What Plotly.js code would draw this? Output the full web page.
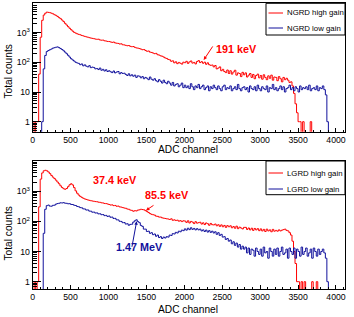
<!DOCTYPE html>
<html><head><meta charset="utf-8">
<script src="https://cdn.plot.ly/plotly-3.0.1.min.js"></script>
<style>html,body{margin:0;padding:0;background:#fff}#chart{width:354px;height:317px}</style>
</head><body><div id="chart"></div>
<script>
// bin width (ADC channels) of the histograms
const binWidth = 20;
// NGRD high gain (red, top panel) counts per bin, starting at channel 0
const ngrdHigh = [
1,0.1,1,1,40,700,2600,3900,4500,4900,
4800,4700,4500,4300,4000,3800,3500,3200,2950,2650,
2350,2050,1800,1580,1400,1250,1120,1020,960,910,
870,845,800,775,745,720,700,675,655,640,
625,605,595,600,565,555,560,530,520,505,
500,485,470,480,450,440,432,412,420,390,
385,372,360,368,345,335,340,318,305,300,
290,278,265,270,250,235,240,220,215,205,
195,200,180,175,165,160,150,140,135,125,
121,108,112,96,104,90,99,93,87,101,
97,108,92,103,111,94,99,88,106,114,
98,105,93,101,86,96,83,79,81,70,
78,60,64,70,52,58,49,45,55,42,
52,40,47,54,37,44,42,33,46,38,
44,32,37,42,31,39,28,36,40,30,
36,27,38,31,26,35,29,37,25,32,
31,24,33,28,22,31,26,29,25,21,
22,16,9,4,2,1,1,0.1,1,0.1,
0.1,0.1,0.1,1,0.1,0.1];
// NGRD low gain (blue, top panel)
const ngrdLow = [
0.1,0.1,0.1,0.1,0.1,0.1,1,60,170,230,
250,265,280,300,310,322,330,312,290,270,
245,220,195,172,150,132,120,110,100,95,
92,83,88,76,82,74,70,77,66,69,
67,60,62,57,64,54,58,51,56,49,
52,48,45,51,44,47,49,41,45,42,
43,39,36,41,35,38,34,37,31,35,
34,30,33,28,31,29,26,32,27,25,
28,24,22,26,23,20,25,21,19,23,
20,17,21,16,18,19,15,17,20,14,
17,14,16,13,19,15,12,16,14,18,
13,15,17,12,14,16,11,15,13,17,
14,12,16,13,11,15,17,12,14,13,
16,11,13,15,12,18,13,11,14,15,
12,14,10,16,13,12,15,11,17,13,
11,15,13,12,16,10,14,13,18,12,
14,11,13,16,12,15,10,13,14,17,
12,14,11,15,13,10,16,12,14,13,
15,12,17,11,13,14,12,16,11,14,
13,16,12,8,1,0.1];
// LGRD high gain (red, bottom panel)
const lgrdHigh = [
0.1,1,0.1,1,300,2500,4000,4700,4900,4700,
4300,3800,3300,2900,2600,2300,2000,1750,1500,1320,
1200,1150,1220,1400,1620,1750,1600,1300,1020,850,
740,670,620,580,550,530,510,495,480,470,
460,450,445,430,425,410,405,390,385,375,
360,345,350,330,335,315,320,300,295,285,
275,270,255,250,235,230,215,225,220,235,
240,250,245,240,225,210,195,180,170,165,
160,148,146,138,138,130,127,124,121,119,
115,121,108,112,106,109,101,105,98,104,
102,92,104,88,99,94,84,97,87,90,
93,81,89,78,88,83,74,85,77,76,
81,71,77,68,76,66,73,63,72,66,
71,61,67,59,69,57,64,60,56,63,
63,54,60,52,59,50,58,52,57,49,
56,48,54,46,55,48,52,45,54,47,
50,47,52,48,51,53,55,50,48,42,
35,22,10,4,1,1,0.1,1,0.1,1,
0.1,0.1,0.1,0.1,1,0.1,0.1,1,0.1,0.1];
// LGRD low gain (blue, bottom panel)
const lgrdLow = [
0.1,0.1,0.1,0.1,0.1,0.1,0.1,40,250,330,
345,318,316,338,342,371,386,395,410,405,
414,398,395,380,383,362,360,340,334,310,
304,284,280,258,256,236,238,218,216,200,
202,188,190,176,178,165,168,154,157,145,
150,136,138,124,125,112,111,100,99,90,
91,81,83,74,79,80,94,104,112,98,
90,73,68,55,55,46,47,40,42,36,
38,32,35,29,31,27,30,28,31,30,
35,34,39,38,43,41,47,45,51,49,
56,51,59,53,61,54,58,52,57,52,
55,48,52,46,51,44,49,43,47,41,
45,37,42,34,37,30,31,25,27,22,
24,18,21,16,19,14,17,12,15,12,
14,9,13,8,12,11,7,13,10,8,
12,7,14,9,10,6,13,10,7,12,
8,13,7,10,14,8,9,12,6,13,
10,8,13,6,12,10,7,14,8,10,
13,7,9,12,6,13,10,7,12,8,
10,12,9,6,1,0.1];
const xTicks = [0,500,1000,1500,2000,2500,3000,3500,4000];
const yTickVals = [1,10,100,1000];
const yTickText = ["1","10","10<sup>2</sup>","10<sup>3</sup>"];
const legendTop = ["NGRD high gain","NGRD low gain"];
const legendBottom = ["LGRD high gain","LGRD low gain"];
const peakLabels = ["191 keV","37.4 keV","85.5 keV","1.47 MeV"];

const RED = '#ff0000', BLUE = '#11119c';
const edges = arr => arr.map((_, i) => i * binWidth);
function tr(y, color, xa, ya) {
  return {x: edges(y), y: y, type: 'scatter', mode: 'lines', line: {shape: 'hv', color: color, width: 1}, xaxis: xa, yaxis: ya, hoverinfo: 'skip'};
}
const data = [
  tr(ngrdHigh, RED, 'x', 'y'), tr(ngrdLow, BLUE, 'x', 'y'),
  tr(lgrdHigh, RED, 'x2', 'y2'), tr(lgrdLow, BLUE, 'x2', 'y2')
];
const W = 354, H = 317;
const px = v => v / W, py = v => 1 - v / H;
const minorLog = [];
for (let d = 0.1; d < 20000; d *= 10) for (let k = 2; k <= 9; k++) minorLog.push(+(k * d).toPrecision(3));
const font = 'Liberation Sans, Arial, sans-serif';
function xax(dom, anchor) {
  return {domain: dom, anchor: anchor, range: [0, 4119], tickmode: 'array', tickvals: xTicks,
    ticks: 'inside', ticklen: 4, tickcolor: '#000', showline: true, mirror: true, linecolor: '#000', linewidth: 1,
    showgrid: false, zeroline: false, tickfont: {size: 8.7, color: '#000', family: font},
    minor: {dtick: 100, ticks: 'inside', ticklen: 2, tickcolor: '#000', showgrid: false}};
}
function yax(dom, anchor, rng) {
  return {domain: dom, anchor: anchor, type: 'log', range: rng, tickmode: 'array', tickvals: yTickVals, ticktext: yTickText,
    ticks: 'inside', ticklen: 8, tickcolor: '#000', showline: true, mirror: true, linecolor: '#000', linewidth: 1,
    showgrid: false, zeroline: false, tickfont: {size: 8.7, color: '#000', family: font},
    minor: {tickmode: 'array', tickvals: minorLog, ticks: 'inside', ticklen: 4, tickcolor: '#000', showgrid: false}};
}
const xDom = [px(32.6), px(345)];
const shapes = [], ann = [];
function legend(top, bottom, rows, names) {
  shapes.push({type: 'rect', xref: 'paper', yref: 'paper', x0: px(266), x1: px(345), y0: py(top), y1: py(bottom), line: {color: '#000', width: 1}, fillcolor: '#fff', layer: 'above'});
  [RED, BLUE].forEach((c, i) => {
    shapes.push({type: 'line', xref: 'paper', yref: 'paper', x0: px(268.5), x1: px(283), y0: py(rows[i]), y1: py(rows[i]), line: {color: c, width: 1}});
    ann.push({xref: 'paper', yref: 'paper', x: px(285), y: py(rows[i]), xanchor: 'left', yanchor: 'middle', text: names[i], showarrow: false, font: {size: 7.8, color: '#000', family: font}});
  });
}
legend(3.3, 35, [13, 28], legendTop);
legend(161, 194.7, [173, 189], legendBottom);
// axis titles
[[150, 72], [309, 234]].forEach(([xt, yt]) => {
  ann.push({xref: 'paper', yref: 'paper', x: px(188.5), y: py(xt), text: 'ADC channel', showarrow: false, xanchor: 'center', yanchor: 'middle', font: {size: 10.2, color: '#000', family: font}});
  ann.push({xref: 'paper', yref: 'paper', x: px(7.5), y: py(yt), text: 'Total counts', textangle: -90, showarrow: false, xanchor: 'center', yanchor: 'middle', font: {size: 10.2, color: '#000', family: font}});
});
const bold = c => ({size: 10.8, color: c, family: font, weight: 'bold'});
// peak labels
ann.push({xref: 'paper', yref: 'paper', x: px(236), y: py(41), text: '<b>' + peakLabels[0] + '</b>', showarrow: false, font: bold(RED)});
ann.push({xref: 'x', yref: 'y', x: 2256, y: Math.log10(120), text: '', showarrow: true, arrowhead: 2, arrowsize: 0.7, arrowwidth: 1, arrowcolor: RED, ax: 10, ay: -15, standoff: 0});
ann.push({xref: 'paper', yref: 'paper', x: px(91), y: py(180), text: '<b>' + peakLabels[1] + '</b>', showarrow: false, font: bold(RED)});
ann.push({xref: 'paper', yref: 'paper', x: px(167), y: py(194.7), text: '<b>' + peakLabels[2] + '</b>', showarrow: false, font: bold(RED)});
ann.push({xref: 'x2', yref: 'y2', x: 1495, y: Math.log10(230), text: '', showarrow: true, arrowhead: 2, arrowsize: 0.7, arrowwidth: 1, arrowcolor: RED, ax: 9, ay: -6, standoff: 0});
ann.push({xref: 'paper', yref: 'paper', x: px(139), y: py(254.7), text: '<b>' + peakLabels[3] + '</b>', showarrow: false, font: bold(BLUE)});
ann.push({xref: 'x2', yref: 'y2', x: 1372, y: Math.log10(100), text: '', showarrow: true, arrowhead: 2, arrowsize: 0.7, arrowwidth: 1, arrowcolor: BLUE, ax: -5, ay: 27, standoff: 0});

const layout = {
  width: W, height: H, margin: {l: 0, r: 0, t: 0, b: 0}, showlegend: false,
  paper_bgcolor: '#fff', plot_bgcolor: '#fff', font: {family: font, color: '#000'},
  xaxis: xax(xDom, 'y'), yaxis: yax([py(131.7), py(3.3)], 'x', [-0.337, 3.987]),
  xaxis2: xax(xDom, 'y2'), yaxis2: yax([py(289), py(161)], 'x2', [-0.242, 3.997]),
  shapes: shapes, annotations: ann
};
Plotly.newPlot('chart', data, layout, {staticPlot: true, displayModeBar: false});
</script></body></html>
